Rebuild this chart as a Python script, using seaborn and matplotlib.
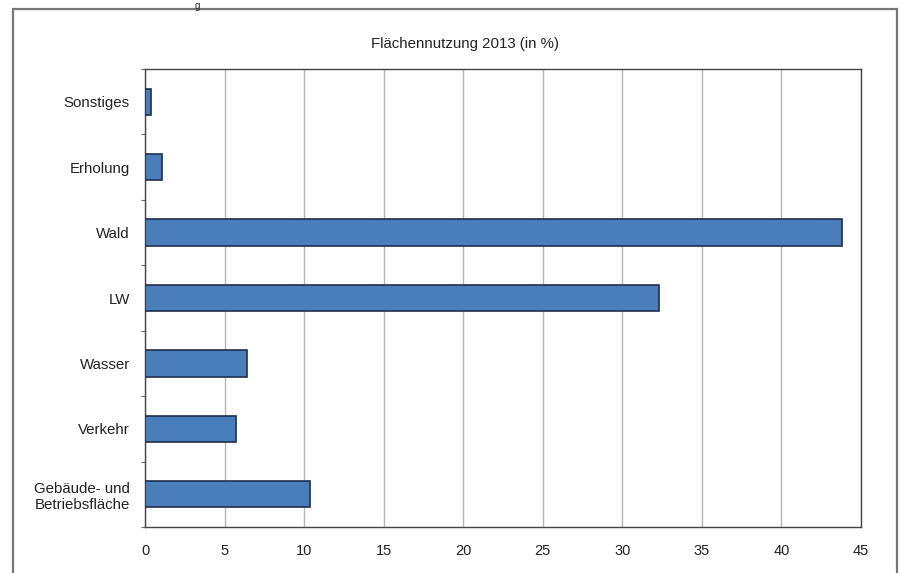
import matplotlib
matplotlib.use("Agg")
import matplotlib.pyplot as plt
import matplotlib.patches as mpatches
import seaborn as sns
import pandas as pd
import numpy as np

categories = ["Sonstiges", "Erholung", "Wald", "LW", "Wasser", "Verkehr",
              "Gebäude- und\nBetriebsfläche"]
values = [0.35, 1.05, 43.8, 32.3, 6.4, 5.7, 10.4]
x_ticks = [0, 5, 10, 15, 20, 25, 30, 35, 40, 45]
title = "Flächennutzung 2013 (in %)"

sns.set_theme(style="white")
plt.rcParams["font.family"] = ["Liberation Sans", "DejaVu Sans"]

df = pd.DataFrame({"Kategorie": categories, "Wert": values})

fig = plt.figure(figsize=(9.01, 5.73), dpi=100)
fig.patch.set_facecolor("white")
ax = fig.add_axes([145 / 901, 1 - 527 / 573, (861 - 145) / 901, (527 - 69) / 573])

sns.barplot(data=df, y="Kategorie", x="Wert", order=categories, orient="h",
            color="#4a7ebb", edgecolor="#1e2f4d", linewidth=1.2, width=0.4,
            saturation=1, ax=ax, zorder=3)

ax.set_xlim(0, 45)
ax.set_ylim(len(categories) - 0.5, -0.5)
ax.set_xticks(x_ticks)
ax.set_xticklabels([str(t) for t in x_ticks], fontsize=10.5, color="#222222")
ax.tick_params(axis="x", length=0, pad=12)
ax.tick_params(axis="y", which="major", length=0, pad=11, labelsize=10.8,
               labelcolor="#222222")
ax.set_yticks(np.arange(len(categories) + 1) - 0.5, minor=True)
ax.tick_params(axis="y", which="minor", length=3, direction="out",
               color="#666666", width=0.8, left=True)
ax.set_xlabel("")
ax.set_ylabel("")
ax.xaxis.grid(True, color="#b5b5b5", linewidth=1.0, zorder=0)
ax.set_axisbelow(True)
for s in ax.spines.values():
    s.set_visible(True)
    s.set_color("#444444")
    s.set_linewidth(1.0)

fig.text(465 / 901, 1 - 44 / 573, title, ha="center", va="center",
         fontsize=10.8, color="#222222")

# outer frame
frame = mpatches.Rectangle((13 / 901, -0.05), (897 - 13) / 901, 1.05 - 9 / 573,
                           transform=fig.transFigure, fill=False,
                           edgecolor="#777777", linewidth=1.6)
fig.add_artist(frame)

# small heading glyph at the very top
fig.text(197 / 901, 1 - 1 / 573, "g", ha="center", va="top", fontsize=7,
         color="#222222")

fig.savefig("out.png", dpi=100)
